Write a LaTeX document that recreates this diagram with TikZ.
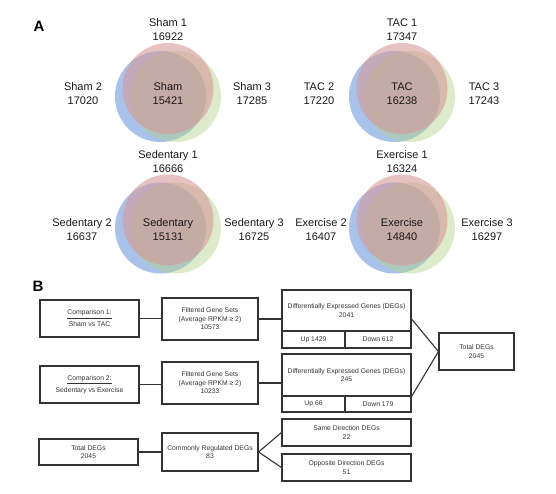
\documentclass[tikz,border=0pt]{standalone}
\usepackage{fontspec}
\setmainfont{Liberation Sans}
\usepackage{xcolor}
\usepackage{tikz}
\usetikzlibrary{calc}
\definecolor{vennblue}{RGB}{120,160,220}
\definecolor{vennred}{RGB}{214,150,150}
\definecolor{venngreen}{RGB}{180,210,140}

\begin{document}
\begin{tikzpicture}[x=1pt, y=-1pt,
  vennb/.style={fill=vennblue, fill opacity=0.64},
  venng/.style={fill=venngreen, fill opacity=0.45},
  vennr/.style={fill=vennred, fill opacity=0.58},
  vennlabel/.style={font=\fontsize{11}{14}\selectfont, align=center, text=black!90},
  panel/.style={font=\bfseries\fontsize{15}{15}\selectfont},
  flowbox/.style={draw=black!80, line width=1.1pt, align=center, inner sep=0pt, font=\fontsize{6.8}{8.5}\selectfont, text=black!80},
  link/.style={draw=black!80, line width=1.1pt}]
  \useasboundingbox (0,0) rectangle (556,494);
  % panel A
  \node[panel] (pa) at (39,26.5) {A};
  \coordinate (shamc) at (168,96.5);
  \coordinate (tacc) at (402,96.5);
  \coordinate (sedc) at (168,228);
  \coordinate (exc) at (402,228);
  \fill[vennb] ([xshift=-7.5pt]shamc) circle[radius=45.5pt];
  \fill[venng] ([xshift=7.5pt]shamc) circle[radius=45.5pt];
  \fill[vennr] ([yshift=8pt]shamc) circle[radius=45.5pt];
  \fill[vennb] ([xshift=-7.5pt]tacc) circle[radius=45.5pt];
  \fill[venng] ([xshift=7.5pt]tacc) circle[radius=45.5pt];
  \fill[vennr] ([yshift=8pt]tacc) circle[radius=45.5pt];
  \fill[vennb] ([xshift=-7.5pt]sedc) circle[radius=45.5pt];
  \fill[venng] ([xshift=7.5pt]sedc) circle[radius=45.5pt];
  \fill[vennr] ([yshift=8pt]sedc) circle[radius=45.5pt];
  \fill[vennb] ([xshift=-7.5pt]exc) circle[radius=45.5pt];
  \fill[venng] ([xshift=7.5pt]exc) circle[radius=45.5pt];
  \fill[vennr] ([yshift=8pt]exc) circle[radius=45.5pt];
  \node[vennlabel] (sham) at (168,94) {Sham\\15421};
  \node[vennlabel] (sham1) at (168,30) {Sham 1\\16922};
  \node[vennlabel] (sham2) at (83,94) {Sham 2\\17020};
  \node[vennlabel] (sham3) at (252,94) {Sham 3\\17285};
  \node[vennlabel] (tac) at (402,94) {TAC\\16238};
  \node[vennlabel] (tac1) at (402,30) {TAC 1\\17347};
  \node[vennlabel] (tac2) at (319,94) {TAC 2\\17220};
  \node[vennlabel] (tac3) at (484,94) {TAC 3\\17243};
  \node[vennlabel] (sed) at (168,230) {Sedentary\\15131};
  \node[vennlabel] (sed1) at (168,161.5) {Sedentary 1\\16666};
  \node[vennlabel] (sed2) at (82,230) {Sedentary 2\\16637};
  \node[vennlabel] (sed3) at (254,230) {Sedentary 3\\16725};
  \node[vennlabel] (ex) at (402,230) {Exercise\\14840};
  \node[vennlabel] (ex1) at (402,161.5) {Exercise 1\\16324};
  \node[vennlabel] (ex2) at (321,230) {Exercise 2\\16407};
  \node[vennlabel] (ex3) at (487,230) {Exercise 3\\16297};
  % panel B
  \node[panel] (pb) at (38,286.5) {B};
  \node[flowbox, minimum width=99, minimum height=37] (cmp1) at (89.5,318.5) {\underline{Comparison 1:}\\[3.5pt]Sham vs TAC};
  \node[flowbox, minimum width=96, minimum height=42] (filt1) at (210,319) {Filtered Gene Sets\\(Average RPKM ≥ 2)\\10573};
  \node[flowbox, minimum width=129, minimum height=41] (deg1) at (346.5,310.5) {Differentially Expressed Genes (DEGs)\\2041};
  \node[flowbox, minimum width=63, minimum height=17] (up1) at (313.5,339.5) {Up 1429};
  \node[flowbox, minimum width=66, minimum height=17] (down1) at (378,339.5) {Down 612};
  \node[flowbox, minimum width=99, minimum height=37] (cmp2) at (89.5,384.5) {\underline{Comparison 2:}\\[3.5pt]Sedentary vs Exercise};
  \node[flowbox, minimum width=96, minimum height=42] (filt2) at (210,383) {Filtered Gene Sets\\(Average RPKM ≥ 2)\\10233};
  \node[flowbox, minimum width=129, minimum height=42] (deg2) at (346.5,375) {Differentially Expressed Genes (DEGs)\\245};
  \node[flowbox, minimum width=63, minimum height=16] (up2) at (313.5,404) {Up 66};
  \node[flowbox, minimum width=66, minimum height=16] (down2) at (378,404) {Down 179};
  \node[flowbox, minimum width=75, minimum height=37] (totr) at (476.5,351.5) {Total DEGs\\2045};
  \node[flowbox, minimum width=99, minimum height=26] (totl) at (88.5,452) {Total DEGs\\2045};
  \node[flowbox, minimum width=96, minimum height=38] (common) at (210,452) {Commonly Regulated DEGs\\83};
  \node[flowbox, minimum width=129, minimum height=27] (same) at (346.5,432.5) {Same Direction DEGs\\22};
  \node[flowbox, minimum width=129, minimum height=27] (opp) at (346.5,467.5) {Opposite Direction DEGs\\51};
  \draw[link] (cmp1.east) -- (cmp1.east -| filt1.west);
  \draw[link] (filt1.east) -- (filt1.east -| deg1.west);
  \draw[link] (cmp2.east) -- (cmp2.east -| filt2.west);
  \draw[link] (filt2.east) -- (filt2.east -| deg2.west);
  \draw[link] ($(deg1.north east)!0.5!(down1.south east)$) -- (totr.west);
  \draw[link] (deg2.south east) -- (totr.west);
  \draw[link] (totl) -- (common);
  \draw[link] (common.east) -- (same.west);
  \draw[link] (common.east) -- (opp.west);
\end{tikzpicture}
\end{document}
